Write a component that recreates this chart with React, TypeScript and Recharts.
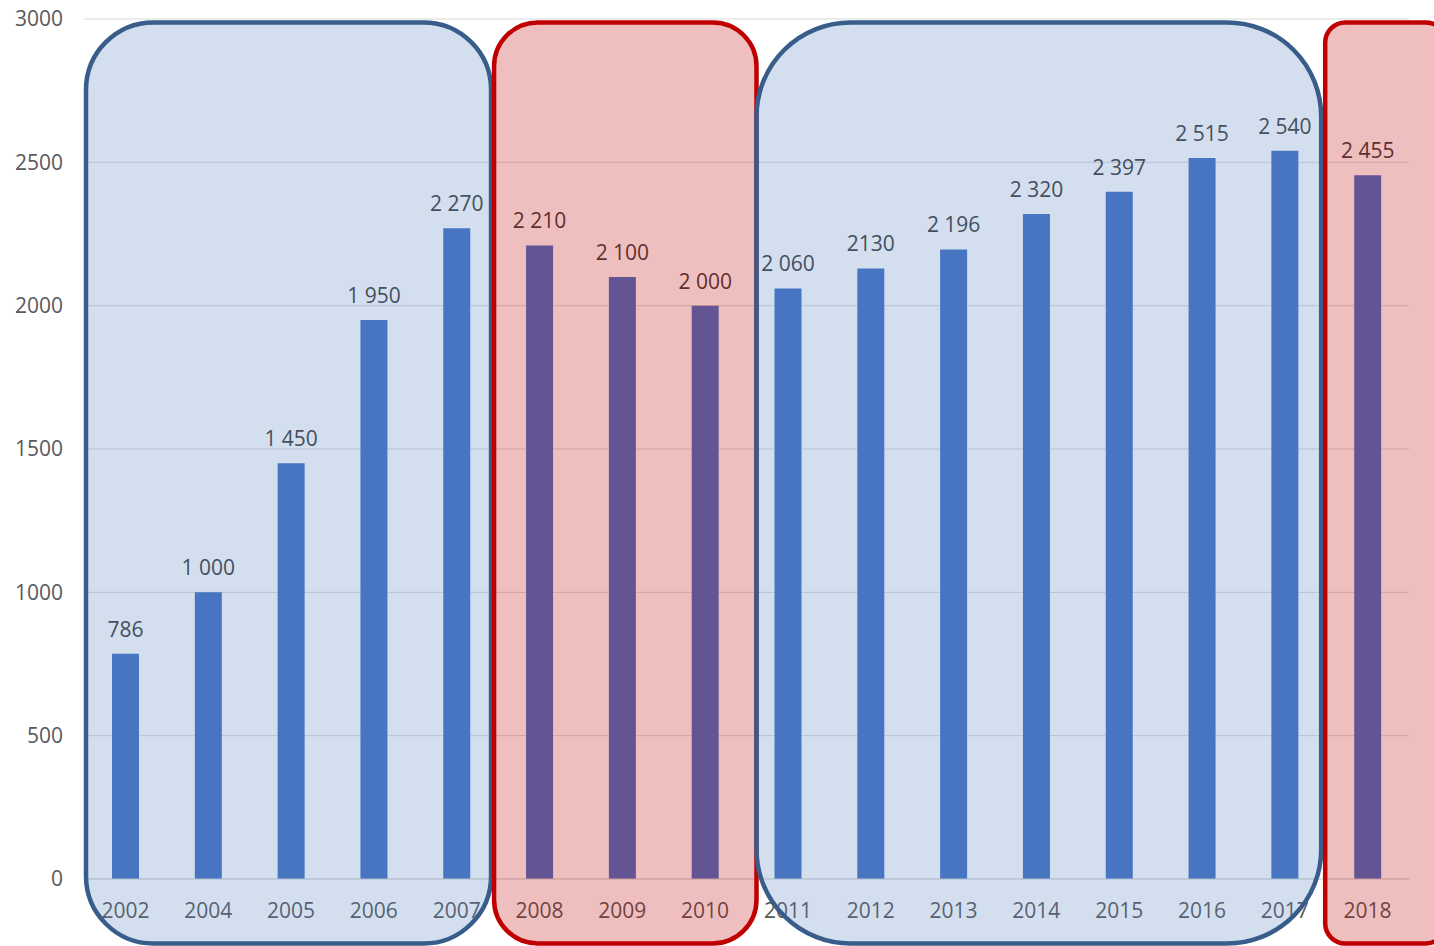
import { BarChart, Bar, XAxis, YAxis, CartesianGrid, ReferenceArea, LabelList } from 'recharts';

const years = ['2002', '2004', '2005', '2006', '2007', '2008', '2009', '2010', '2011', '2012', '2013', '2014', '2015', '2016', '2017', '2018'];
const values = [786, 1000, 1450, 1950, 2270, 2210, 2100, 2000, 2060, 2130, 2196, 2320, 2397, 2515, 2540, 2455];
const valueLabels = ['786', '1 000', '1 450', '1 950', '2 270', '2 210', '2 100', '2 000', '2 060', '2130', '2 196', '2 320', '2 397', '2 515', '2 540', '2 455'];
const yTicks = [0, 500, 1000, 1500, 2000, 2500, 3000];

// highlighted periods (first year, last year, colour)
const periodFrom = ['2002', '2008', '2011', '2018'];
const periodTo = ['2007', '2010', '2017', '2018'];
const periodKind = ['blue', 'red', 'blue', 'red'];

const BOX_STYLE: Record<string, { fill: string; stroke: string }> = {
  blue: { fill: 'rgba(79,129,189,0.25)', stroke: '#385D8A' },
  red: { fill: 'rgba(192,0,0,0.25)', stroke: '#C00000' },
};
// small horizontal nudges so the hand-drawn boxes sit like in the original
const BOX_NUDGE = [[2, -7], [-4, 10], [10, -5], [-1, 37]];

const FONT = '"Open Sans", sans-serif';

// non-breaking space keeps "2 270" on one line (Text wraps on normal spaces)
const data = years.map((year, i) => ({ year, value: values[i], label: valueLabels[i].replace(/ /g, '\u00A0') }));

function makeBox(kind: string, nudge: number[]) {
  return (props: any) => {
    const { x, y, width, height } = props;
    const left = x + nudge[0];
    const w = width - nudge[0] + nudge[1];
    const r = Math.min(w, height) / 6;
    const s = BOX_STYLE[kind];
    return (
      <rect x={left} y={y} width={w} height={height} rx={r} ry={r}
        fill={s.fill} stroke={s.stroke} strokeWidth={4.5} />
    );
  };
}

export default function App() {
  return (
    <div style={{ position: 'absolute', left: 0, top: 0, width: 1434, height: 946, background: '#fff', overflow: 'hidden' }}>
      <BarChart width={1434} height={946} data={data}
        margin={{ top: 19, right: 25, left: 0, bottom: 0 }}>
        <CartesianGrid vertical={false} stroke="#D9D9D9" />
        <XAxis dataKey="year" height={67} tickLine={false} axisLine={{ stroke: '#D9D9D9' }}
          tickMargin={18} tick={{ fill: '#595959', fontSize: 21, fontFamily: FONT }} />
        <YAxis width={84} domain={[0, 3000]} ticks={yTicks} tickLine={false} axisLine={false}
          tickMargin={15} tick={{ fill: '#595959', fontSize: 21, fontFamily: FONT }} />
        <Bar dataKey="value" fill="#4472C4" barSize={27} isAnimationActive={false}>
          <LabelList dataKey="label" position="top" offset={17}
            style={{ fill: '#404040', fontSize: 21, fontFamily: FONT }} />
        </Bar>
        {periodFrom.map((from, i) => (
          <ReferenceArea key={from} x1={from} x2={periodTo[i]} y1={-225} y2={2988}
            ifOverflow="visible" zIndex={3000}
            shape={makeBox(periodKind[i], BOX_NUDGE[i])} />
        ))}
      </BarChart>
    </div>
  );
}
